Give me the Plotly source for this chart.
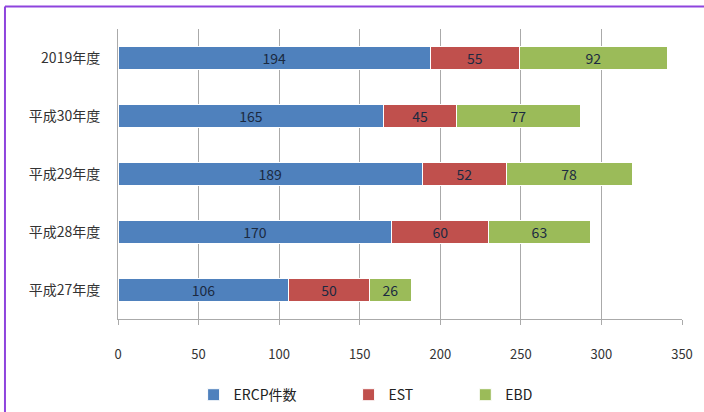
import plotly.graph_objects as go

categories = ["平成27年度", "平成28年度", "平成29年度", "平成30年度", "2019年度"]
ercp = [106, 170, 189, 165, 194]
est = [50, 60, 52, 45, 55]
ebd = [26, 63, 78, 77, 92]
series_names = ["ERCP件数", "EST", "EBD"]
colors = ["#4F81BD", "#C0504D", "#9BBB59"]
x_ticks = [0, 50, 100, 150, 200, 250, 300, 350]

FONT = "Noto Sans CJK JP"
pad = "\u00a0" * 15

fig = go.Figure()
for name, vals, col in zip(series_names, [ercp, est, ebd], colors):
    fig.add_trace(go.Bar(
        y=categories, x=vals, orientation="h", name=name + pad,
        marker=dict(color=col, line=dict(color="white", width=1)),
        text=vals, textposition="inside", insidetextanchor="middle",
        textangle=0, constraintext="none",
        textfont=dict(family=FONT, size=14, color="#1B2A41"),
        width=0.4,
    ))

# frame lines (purple) at top and left
fig.add_shape(type="line", xref="paper", yref="paper", x0=-0.2004, x1=1.1,
              y0=1.0776, y1=1.0776, line=dict(color="#8E44DD", width=2))
fig.add_shape(type="line", xref="paper", yref="paper", x0=-0.2004, x1=-0.2004,
              y0=1.0776, y1=-0.33, line=dict(color="#8E44DD", width=2))

fig.update_layout(
    width=704, height=412,
    margin=dict(l=118, r=22, t=29, b=93, autoexpand=False),
    barmode="stack",
    bargap=0.6,
    uniformtext=dict(mode=False),
    paper_bgcolor="white", plot_bgcolor="white",
    font=dict(family=FONT, color="#333333"),
    showlegend=True,
    legend=dict(orientation="h", xref="container", yref="container",
                x=0.275, xanchor="left", y=0.041, yanchor="middle",
                font=dict(family=FONT, size=14, color="#222222"),
                itemwidth=30, traceorder="normal"),
    xaxis=dict(range=[0, 350], tickvals=x_ticks, showgrid=True,
               gridcolor="#AAAAAA", gridwidth=1, zeroline=False,
               showline=True, linecolor="#AAAAAA", automargin=False,
               tickfont=dict(family=FONT, size=13, color="#333333"),
               ticks="outside", ticklen=5, tickcolor="#AAAAAA",
               ticklabelstandoff=18),
    yaxis=dict(categoryorder="array", categoryarray=categories,
               showline=True, linecolor="#AAAAAA", automargin=False,
               tickfont=dict(family=FONT, size=14, color="#333333"),
               ticks="", ticklabelstandoff=14),
)

fig.write_html("out.html", config={"displayModeBar": False},
               post_script="document.body.style.margin='0';document.body.style.overflow='hidden';")
